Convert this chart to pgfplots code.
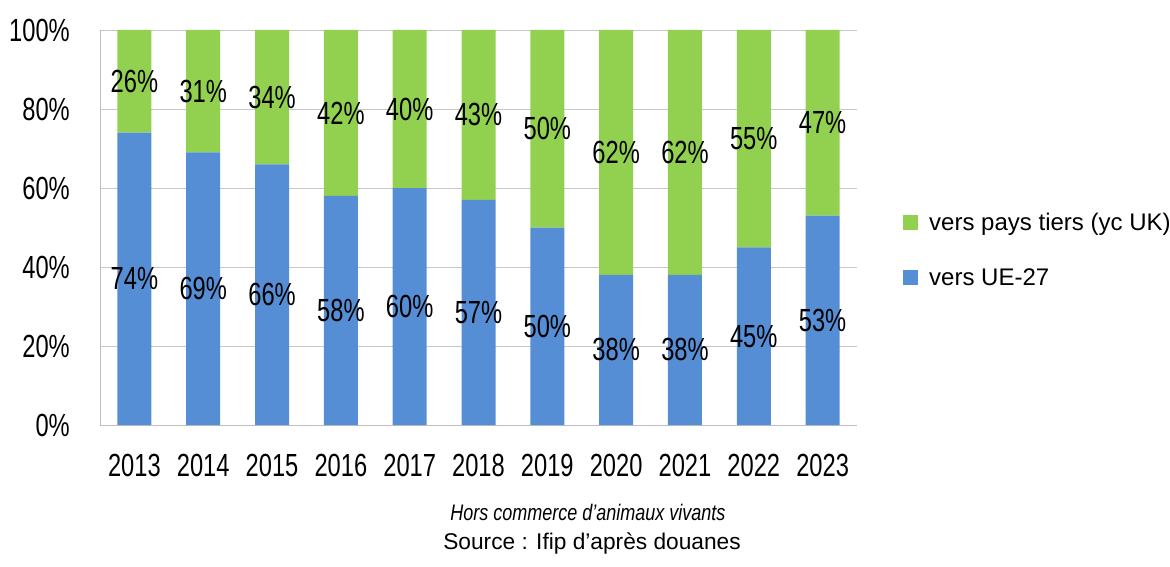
\documentclass[border=0pt]{standalone}
\usepackage{pgfplots}
\pgfplotsset{compat=1.18}
\usepackage{fontspec}
\setmainfont{Liberation Sans}
\newfontfamily\narrow[FakeStretch=0.74]{Liberation Sans}
\newfontfamily\narrowit[FakeStretch=0.8]{Liberation Sans}
\definecolor{cgreen}{HTML}{92D050}
\definecolor{cblue}{HTML}{558ED5}
\begin{document}
\begin{tikzpicture}
\useasboundingbox (0,0) rectangle (1170pt,566pt);
\begin{axis}[
  at={(100pt,141pt)}, anchor=south west,
  scale only axis, width=757pt, height=395pt,
  ybar stacked, bar width=34pt,
  xmin=-0.5, xmax=10.5, ymin=0, ymax=100,
  xtick={0,...,10},
  xticklabels={2013,2014,2015,2016,2017,2018,2019,2020,2021,2022,2023},
  ytick={0,20,...,100},
  yticklabel={\pgfmathprintnumber{\tick}\%},
  /pgf/number format/assume math mode=true,
  ticklabel style={font=\narrow\fontsize{32}{34}\selectfont},
  xticklabel style={anchor=base, yshift=-51pt},
  yticklabel style={anchor=east, inner sep=0pt, xshift=-30pt},
  axis x line*=bottom, axis y line*=left,
  axis line style={draw=black!25, -},
  ymajorgrids, grid style={draw=black!22},
  major tick length=0pt,
  point meta=explicit,
  nodes near coords={\pgfmathprintnumber{\pgfplotspointmeta}\%},
  every node near coord/.append style={font=\narrow\fontsize{32}{34}\selectfont, text=black, anchor=center},
  legend style={at={(1.0608,0.443)}, anchor=west, draw=none, fill=none, inner sep=0pt,
    font=\fontsize{24}{28}\selectfont, row sep=32pt,
    /tikz/every odd column/.append style={column sep=9pt}},
  legend image code/.code={\fill[#1] (0pt,-7.5pt) rectangle (15pt,7.5pt);},
  reverse legend,
  legend cell align=left,
]
\addplot[fill=cblue, draw=none] coordinates {
(0,74)[74] (1,69)[69] (2,66)[66] (3,58)[58] (4,60)[60] (5,57)[57]
(6,50)[50] (7,38)[38] (8,38)[38] (9,45)[45] (10,53)[53]};
\addplot[fill=cgreen, draw=none] coordinates {
(0,26)[26] (1,31)[31] (2,34)[34] (3,42)[42] (4,40)[40] (5,43)[43]
(6,50)[50] (7,62)[62] (8,62)[62] (9,55)[55] (10,47)[47]};
\legend{vers UE-27, vers pays tiers (yc UK)}
\end{axis}
\node[anchor=base] at (588pt,46pt) {\narrowit\itshape\fontsize{22.5}{26}\selectfont Hors commerce d’animaux vivants};
\node[anchor=base] at (592pt,17pt) {\fontsize{22.7}{26}\selectfont Source : Ifip d’après douanes};
\end{tikzpicture}
\end{document}
